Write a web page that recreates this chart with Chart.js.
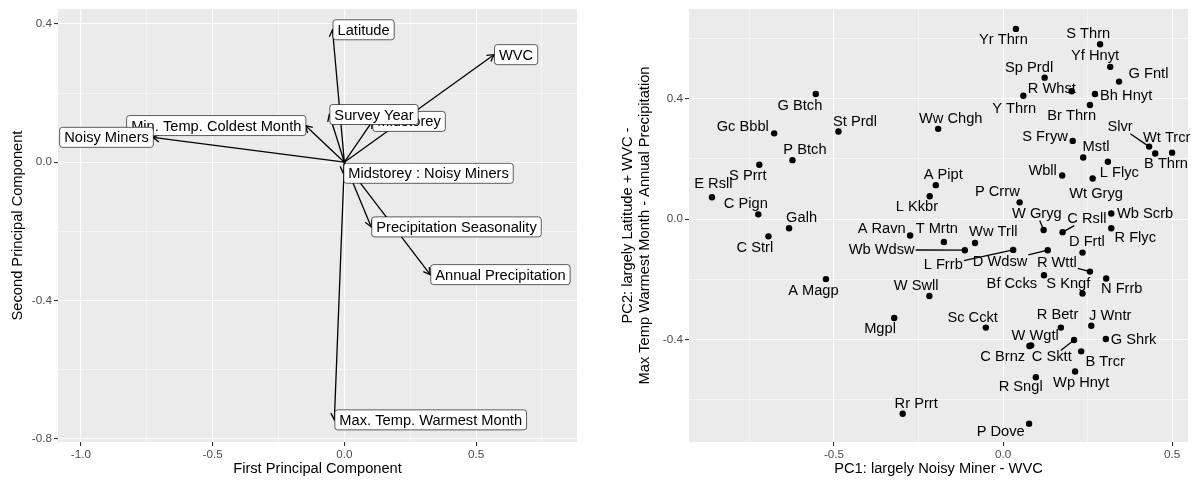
<!DOCTYPE html>
<html>
<head>
<meta charset="utf-8">
<script src="https://cdn.jsdelivr.net/npm/chart.js@4/dist/chart.umd.min.js"></script>
<style>
    html, body { margin: 0; padding: 0; background: #fff; }
    #wrap { position: relative; width: 1194px; height: 483px; }
    canvas { position: absolute; top: 0; }
    #biplot { left: 0; }
    #scores { left: 590px; }
</style>
</head>
<body>
<div id="wrap">
    <canvas id="biplot" width="590" height="483"></canvas>
    <canvas id="scores" width="604" height="483"></canvas>
</div>
<script>
// Left panel: variable loadings (arrows from origin)
const loadingNames = ['WVC', 'Midstorey', 'Survey Year', 'Latitude', 'Min. Temp. Coldest Month',
    'Max. Temp. Warmest Month', 'Annual Precipitation', 'Precipitation Seasonality', 'Noisy Miners',
    'Midstorey : Noisy Miners'];
const loadingX = [0.568, 0.106, -0.057, -0.045, -0.148, -0.038, 0.326, 0.102, -0.727, -0.004];
const loadingY = [0.311, 0.118, 0.138, 0.383, 0.106, -0.745, -0.325, -0.187, 0.072, -0.032];

const leftXTicks = [-1.0, -0.5, 0.0, 0.5];
const leftXTickLabels = ['-1.0', '-0.5', '0.0', '0.5'];
const leftYTicks = [-0.8, -0.4, 0.0, 0.4];
const leftYTickLabels = ['-0.8', '-0.4', '0.0', '0.4'];

// Right panel: species scores
const speciesNames = ['Yr Thrn', 'S Thrn', 'Yf Hnyt', 'G Fntl', 'Sp Prdl', 'R Whst', 'Y Thrn', 'Bh Hnyt',
    'Br Thrn', 'G Btch', 'Gc Bbbl', 'St Prdl', 'Ww Chgh', 'S Fryw', 'Slvr', 'Wt Trcr', 'B Thrn', 'Mstl',
    'P Btch', 'Wbll', 'L Flyc', 'S Prrt', 'A Pipt', 'E Rsll', 'Wt Gryg', 'P Crrw', 'L Kkbr', 'C Pign',
    'W Gryg', 'C Rsll', 'Wb Scrb', 'Galh', 'A Ravn', 'T Mrtn', 'Ww Trll', 'D Frtl', 'R Flyc', 'C Strl',
    'Wb Wdsw', 'L Frrb', 'D Wdsw', 'R Wttl', 'Bf Ccks', 'S Kngf', 'N Frrb', 'A Magp', 'W Swll', 'R Betr',
    'J Wntr', 'Mgpl', 'Sc Cckt', 'W Wgtl', 'G Shrk', 'C Brnz', 'C Sktt', 'B Trcr', 'R Sngl', 'Wp Hnyt',
    'Rr Prrt', 'P Dove'];
const speciesX = [0.038, 0.287, 0.317, 0.343, 0.123, 0.203, 0.060, 0.272,
    0.257, -0.554, -0.677, -0.487, -0.192, 0.206, 0.432, 0.500, 0.450, 0.237,
    -0.623, 0.175, 0.310, -0.721, -0.199, -0.861, 0.265, 0.049, -0.217, -0.724,
    0.120, 0.176, 0.320, -0.633, -0.275, -0.175, -0.083, 0.235, 0.320, -0.694,
    -0.113, 0.030, 0.132, 0.257, 0.121, 0.235, 0.305, -0.524, -0.218, 0.171,
    0.261, -0.322, -0.051, 0.083, 0.304, 0.078, 0.210, 0.231, 0.097, 0.213,
    -0.297, 0.077];
const speciesY = [0.632, 0.581, 0.506, 0.457, 0.470, 0.425, 0.410, 0.416,
    0.379, 0.416, 0.285, 0.291, 0.300, 0.260, 0.241, 0.221, 0.218, 0.205,
    0.196, 0.145, 0.191, 0.181, 0.113, 0.073, 0.135, 0.056, 0.076, 0.016,
    -0.036, -0.043, 0.019, -0.030, -0.054, -0.076, -0.079, -0.111, -0.030, -0.057,
    -0.103, -0.102, -0.103, -0.174, -0.186, -0.247, -0.197, -0.199, -0.255, -0.360,
    -0.354, -0.328, -0.360, -0.419, -0.398, -0.421, -0.401, -0.439, -0.525, -0.506,
    -0.646, -0.679];
// where the repelled labels ended up
const labelX = [0.001, 0.252, 0.272, 0.430, 0.077, 0.144, 0.033, 0.364,
    0.203, -0.601, -0.770, -0.438, -0.155, 0.124, 0.346, 0.484, 0.482, 0.275,
    -0.586, 0.117, 0.344, -0.755, -0.177, -0.857, 0.275, -0.017, -0.255, -0.761,
    0.100, 0.248, 0.420, -0.596, -0.359, -0.196, -0.029, 0.248, 0.391, -0.734,
    -0.359, -0.177, -0.009, 0.159, 0.026, 0.193, 0.351, -0.561, -0.257, 0.161,
    0.317, -0.364, -0.090, 0.095, 0.386, -0.001, 0.144, 0.302, 0.052, 0.231,
    -0.257, -0.007];
const labelY = [0.594, 0.614, 0.541, 0.482, 0.502, 0.434, 0.365, 0.410,
    0.343, 0.377, 0.307, 0.324, 0.333, 0.274, 0.307, 0.271, 0.182, 0.239,
    0.231, 0.161, 0.154, 0.145, 0.148, 0.117, 0.085, 0.089, 0.040, 0.049,
    0.019, 0.002, 0.016, 0.004, -0.034, -0.034, -0.043, -0.074, -0.064, -0.095,
    -0.102, -0.152, -0.141, -0.144, -0.216, -0.214, -0.232, -0.238, -0.221, -0.318,
    -0.321, -0.364, -0.328, -0.387, -0.401, -0.456, -0.459, -0.473, -0.558, -0.544,
    -0.613, -0.708];
const leaderLabels = ['Slvr', 'W Gryg', 'C Rsll', 'Wb Wdsw', 'L Frrb', 'D Wdsw', 'R Wttl', 'C Sktt'];

const rightXTicks = [-0.5, 0.0, 0.5];
const rightXTickLabels = ['-0.5', '0.0', '0.5'];
const rightYTicks = [-0.4, 0.0, 0.4];
const rightYTickLabels = ['-0.4', '0.0', '0.4'];

const FONT = '"Liberation Sans", Arial, Helvetica, sans-serif';
const TEXT_PX = 14.67;
Chart.defaults.font.family = FONT;

function isOn(list, v) {
    return list.some(m => Math.abs(m - v) < 1e-9);
}

function buildAxis(opts) {
    const majors = opts.ticks.slice().sort((a, b) => a - b);
    const step = majors[1] - majors[0];
    const minors = [majors[0] - step / 2];
    for (let i = 0; i < majors.length - 1; i++) minors.push((majors[i] + majors[i + 1]) / 2);
    minors.push(majors[majors.length - 1] + step / 2);
    const all = majors.concat(minors.filter(v => v >= opts.min && v <= opts.max)).sort((a, b) => a - b);
    const vertical = opts.position === 'left';

    return {
        type: 'linear',
        position: opts.position,
        min: opts.min,
        max: opts.max,
        afterBuildTicks: s => { s.ticks = all.map(v => ({ value: v })); },
        afterFit: s => {
            if (vertical) s.width = opts.size;
            else s.height = opts.size;
        },
        border: { display: false },
        grid: {
            color: '#ffffff',
            lineWidth: c => (c.tick && isOn(majors, c.tick.value)) ? 1.1 : 0.55,
            drawTicks: true,
            tickLength: 4,
            tickWidth: 1.1,
            tickColor: c => (c.tick && isOn(majors, c.tick.value)) ? '#333333' : 'rgba(0,0,0,0)'
        },
        ticks: {
            autoSkip: false,
            maxRotation: 0,
            padding: 2,
            color: '#4D4D4D',
            font: { size: 11.7 },
            callback: v => {
                const i = opts.ticks.findIndex(m => Math.abs(m - v) < 1e-9);
                return i < 0 ? '' : opts.labels[i];
            }
        },
        title: {
            display: true,
            text: opts.title,
            color: '#000000',
            font: { size: TEXT_PX },
            padding: opts.titlePad
        }
    };
}

const panelBg = {
    id: 'panelBg',
    beforeDraw(chart) {
        const a = chart.chartArea;
        const ctx = chart.ctx;
        ctx.save();
        ctx.fillStyle = '#EBEBEB';
        ctx.fillRect(a.left, a.top, a.right - a.left, a.bottom - a.top);
        ctx.restore();
    }
};

function roundRect(ctx, x, y, w, h, r) {
    ctx.beginPath();
    ctx.moveTo(x + r, y);
    ctx.lineTo(x + w - r, y);
    ctx.arcTo(x + w, y, x + w, y + r, r);
    ctx.lineTo(x + w, y + h - r);
    ctx.arcTo(x + w, y + h, x + w - r, y + h, r);
    ctx.lineTo(x + r, y + h);
    ctx.arcTo(x, y + h, x, y + h - r, r);
    ctx.lineTo(x, y + r);
    ctx.arcTo(x, y, x + r, y, r);
    ctx.closePath();
}

// arrow heads and boxed labels for the loadings
const arrowLabels = {
    id: 'arrowLabels',
    afterDatasetsDraw(chart) {
        const ctx = chart.ctx;
        const sx = chart.scales.x, sy = chart.scales.y;
        const ox = sx.getPixelForValue(0), oy = sy.getPixelForValue(0);
        ctx.save();
        ctx.strokeStyle = '#000';
        ctx.lineWidth = 1.3;
        loadingNames.forEach((name, i) => {
            const tx = sx.getPixelForValue(loadingX[i]);
            const ty = sy.getPixelForValue(loadingY[i]);
            const ang = Math.atan2(ty - oy, tx - ox);
            const len = 7.6, spread = Math.PI / 6;
            ctx.beginPath();
            ctx.moveTo(tx - len * Math.cos(ang - spread), ty - len * Math.sin(ang - spread));
            ctx.lineTo(tx, ty);
            ctx.lineTo(tx - len * Math.cos(ang + spread), ty - len * Math.sin(ang + spread));
            ctx.stroke();
        });

        ctx.font = `${TEXT_PX}px ${FONT}`;
        ctx.textBaseline = 'middle';
        ctx.textAlign = 'left';
        loadingNames.forEach((name, i) => {
            const tx = sx.getPixelForValue(loadingX[i]);
            const ty = sy.getPixelForValue(loadingY[i]);
            const w = ctx.measureText(name).width + 9;
            const h = 20;
            const x0 = loadingX[i] < -0.1 ? tx - w : tx;
            roundRect(ctx, x0 + 0.5, ty - h / 2, w, h, 2.8);
            ctx.fillStyle = '#ffffff';
            ctx.fill();
            ctx.strokeStyle = 'rgba(0,0,0,0.7)';
            ctx.lineWidth = 0.9;
            ctx.stroke();
            ctx.fillStyle = '#000';
            ctx.fillText(name, x0 + 5, ty + 1);
        });
        ctx.restore();
    }
};

// repelled text labels with leader segments
const speciesLabels = {
    id: 'speciesLabels',
    afterDatasetsDraw(chart) {
        const ctx = chart.ctx;
        const sx = chart.scales.x, sy = chart.scales.y;
        ctx.save();
        ctx.font = `${TEXT_PX}px ${FONT}`;
        ctx.strokeStyle = '#000';
        ctx.lineWidth = 1.3;
        speciesNames.forEach((name, i) => {
            if (!leaderLabels.includes(name)) return;
            const lx = sx.getPixelForValue(labelX[i]), ly = sy.getPixelForValue(labelY[i]);
            const px = sx.getPixelForValue(speciesX[i]), py = sy.getPixelForValue(speciesY[i]);
            const hw = ctx.measureText(name).width / 2 + 1, hh = 7;
            const dx = px - lx, dy = py - ly;
            const t = Math.min(dx ? hw / Math.abs(dx) : Infinity, dy ? hh / Math.abs(dy) : Infinity);
            ctx.beginPath();
            ctx.moveTo(lx + dx * t, ly + dy * t);
            ctx.lineTo(px, py);
            ctx.stroke();
        });
        ctx.fillStyle = '#000';
        ctx.textAlign = 'center';
        ctx.textBaseline = 'middle';
        speciesNames.forEach((name, i) => {
            ctx.fillText(name, sx.getPixelForValue(labelX[i]), sy.getPixelForValue(labelY[i]));
        });
        ctx.restore();
    }
};

const commonOptions = {
    responsive: false,
    animation: false,
    devicePixelRatio: 1,
    plugins: { legend: { display: false }, tooltip: { enabled: false } }
};

new Chart(document.getElementById('biplot'), {
    type: 'scatter',
    data: {
        datasets: loadingNames.map((name, i) => ({
            label: name,
            data: [{ x: 0, y: 0 }, { x: loadingX[i], y: loadingY[i] }],
            showLine: true,
            borderColor: '#000',
            borderWidth: 1.3,
            pointRadius: 0
        }))
    },
    options: {
        ...commonOptions,
        layout: { padding: { left: 0, right: 13, top: 7, bottom: 0 } },
        scales: {
            x: buildAxis({ position: 'bottom', min: -1.087, max: 0.883, ticks: leftXTicks, labels: leftXTickLabels,
                title: 'First Principal Component', size: 41, titlePad: { top: 0, bottom: 5 } }),
            y: buildAxis({ position: 'left', min: -0.809, max: 0.443, ticks: leftYTicks, labels: leftYTickLabels,
                title: 'Second Principal Component', size: 58, titlePad: { top: 9, bottom: 0 } })
        }
    },
    plugins: [panelBg, arrowLabels]
});

new Chart(document.getElementById('scores'), {
    type: 'scatter',
    data: {
        datasets: [{
            label: 'species',
            data: speciesNames.map((n, i) => ({ x: speciesX[i], y: speciesY[i] })),
            backgroundColor: '#000',
            borderWidth: 0,
            pointRadius: 3.2
        }]
    },
    options: {
        ...commonOptions,
        layout: { padding: { left: 0, right: 6, top: 7, bottom: 0 } },
        scales: {
            x: buildAxis({ position: 'bottom', min: -0.929, max: 0.547, ticks: rightXTicks, labels: rightXTickLabels,
                title: 'PC1: largely Noisy Miner - WVC', size: 41, titlePad: { top: 0, bottom: 5 } }),
            y: buildAxis({ position: 'left', min: -0.740, max: 0.698, ticks: rightYTicks, labels: rightYTickLabels,
                title: ['PC2: largely Latitude + WVC -', 'Max Temp Warmest Month - Annual Precipitation'],
                size: 99, titlePad: { top: 29, bottom: 0 } })
        }
    },
    plugins: [panelBg, speciesLabels]
});
</script>
</body>
</html>
